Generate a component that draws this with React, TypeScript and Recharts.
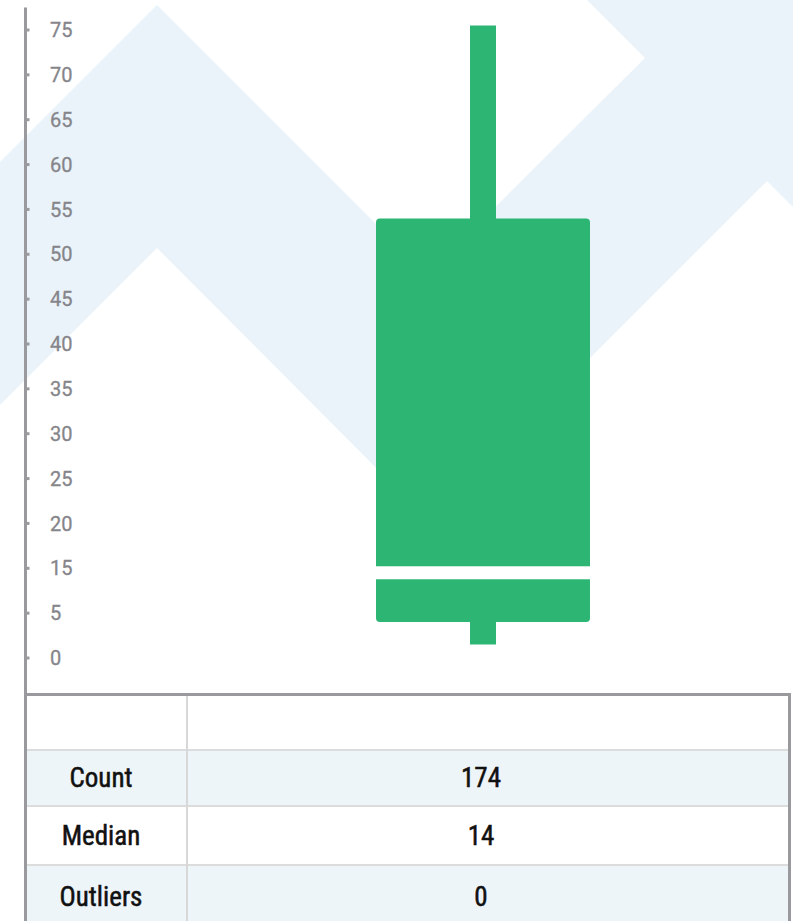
import { ComposedChart, Bar, XAxis, YAxis } from 'recharts'

// axis labels as printed on the chart (note: 10 is skipped, the labels are evenly spaced)
const tickLabels = [0, 5, 15, 20, 25, 30, 35, 40, 45, 50, 55, 60, 65, 70, 75]

const categories = ['All']
const minValues = [1.5]
const q1Values = [4]
const medianValues = [14]
const q3Values = [54]
const maxValues = [75.5]

const statLabels = ['Count', 'Median', 'Outliers']
const statValues = ['174', '14', '0']

const GREEN = '#2cb573'
const AXIS = '#9a9a9e'
const LABEL = '#85858a'

// value -> evenly spaced label slot (piecewise linear between printed labels)
function toSlot(v: number) {
  const n = tickLabels.length
  let i = 0
  if (v >= tickLabels[n - 1]) i = n - 2
  else while (i < n - 2 && v > tickLabels[i + 1]) i++
  const a = tickLabels[i]
  const b = tickLabels[i + 1]
  return i + (v - a) / (b - a)
}

const slotTicks = tickLabels.map((_, i) => i)

const data = categories.map((name, i) => ({
  name,
  whisker: [toSlot(minValues[i]), toSlot(maxValues[i])],
  box: [toSlot(q1Values[i]), toSlot(q3Values[i])],
  q1: toSlot(q1Values[i]),
  q3: toSlot(q3Values[i]),
  med: toSlot(medianValues[i]),
}))

function BoxShape(props: any) {
  const { x, width, payload } = props
  let { y, height } = props
  if (height < 0) {
    y = y + height
    height = -height
  }
  const medY = y + (height * (payload.q3 - payload.med)) / (payload.q3 - payload.q1)
  return (
    <g>
      <rect x={x} y={y} width={width} height={height} rx={4} ry={4} fill={GREEN} />
      <rect x={x} y={medY - 6.5} width={width} height={13} fill="#ffffff" />
    </g>
  )
}

const rowTops = [696, 751, 807, 866]
const rowHeights = [53, 54, 57, 62]
const rowFills = ['#ffffff', '#eef5f9', '#ffffff', '#eef5f9']
const cellFont = '"Roboto Condensed", "Liberation Sans Narrow", Roboto, sans-serif'

const cellStyle = {
  position: 'absolute' as const,
  display: 'flex',
  alignItems: 'center',
  justifyContent: 'center',
  fontFamily: cellFont,
  fontSize: 27,
  color: '#111',
  WebkitTextStroke: '0.5px #111',
}

export default function App() {
  return (
    <div style={{ position: 'absolute', left: 0, top: 0, width: 793, height: 921, overflow: 'hidden', background: '#fff' }}>
      <svg width={793} height={921} style={{ position: 'absolute', left: 0, top: 0 }}>
        <polygon
          points="0,162 157,5 427,275 645,58 587,0 793,0 793,207 767,181 428,520 157,248 0,405"
          fill="#eaf3f9"
        />
      </svg>

      <div style={{ position: 'absolute', left: 0, top: 0 }}>
        <ComposedChart width={793} height={690} data={data} margin={{ top: 7.57, right: 0, bottom: 9.57, left: 25.5 }}>
          <XAxis xAxisId="w" dataKey="name" hide padding={{ left: 147.5, right: 0 }} />
          <XAxis xAxisId="b" dataKey="name" hide padding={{ left: 147.5, right: 0 }} />
          <YAxis
            type="number"
            domain={[-0.5, 14.5]}
            ticks={slotTicks}
            interval={0}
            allowDataOverflow
            mirror
            width={60}
            axisLine={{ stroke: AXIS, strokeWidth: 3 }}
            tickLine={{ stroke: AXIS, strokeWidth: 3 }}
            tickSize={4}
            tickMargin={20.5}
            tickFormatter={(v) => String(tickLabels[v])}
            tick={{ fill: LABEL, fontSize: 20, fontFamily: 'Roboto, sans-serif', stroke: LABEL, strokeWidth: 0.3 }}
          />
          <Bar xAxisId="w" dataKey="whisker" barSize={26} fill={GREEN} isAnimationActive={false} />
          <Bar xAxisId="b" dataKey="box" barSize={214} shape={<BoxShape />} isAnimationActive={false} />
        </ComposedChart>
      </div>

      {/* stats table */}
      {rowTops.map((top, i) => (
        <div key={'r' + i} style={{ position: 'absolute', left: 27, top, width: 761, height: rowHeights[i], background: rowFills[i] }} />
      ))}
      {[749, 805, 864].map((top) => (
        <div key={'l' + top} style={{ position: 'absolute', left: 27, top, width: 761, height: 2, background: '#dcdcdc' }} />
      ))}
      <div style={{ position: 'absolute', left: 186, top: 696, width: 2, height: 225, background: '#d8d8d8' }} />
      <div style={{ position: 'absolute', left: 24, top: 693, width: 767, height: 3, background: AXIS }} />
      <div style={{ position: 'absolute', left: 788, top: 693, width: 3, height: 228, background: AXIS }} />
      <div style={{ position: 'absolute', left: 24, top: 670, width: 3, height: 251, background: AXIS }} />
      {statLabels.map((label, i) => (
        <div key={label}>
          <div style={{ ...cellStyle, left: 21, width: 160, top: rowTops[i + 1], height: rowHeights[i + 1] }}>{label}</div>
          <div style={{ ...cellStyle, left: 181, width: 600, top: rowTops[i + 1], height: rowHeights[i + 1] }}>{statValues[i]}</div>
        </div>
      ))}
    </div>
  )
}
